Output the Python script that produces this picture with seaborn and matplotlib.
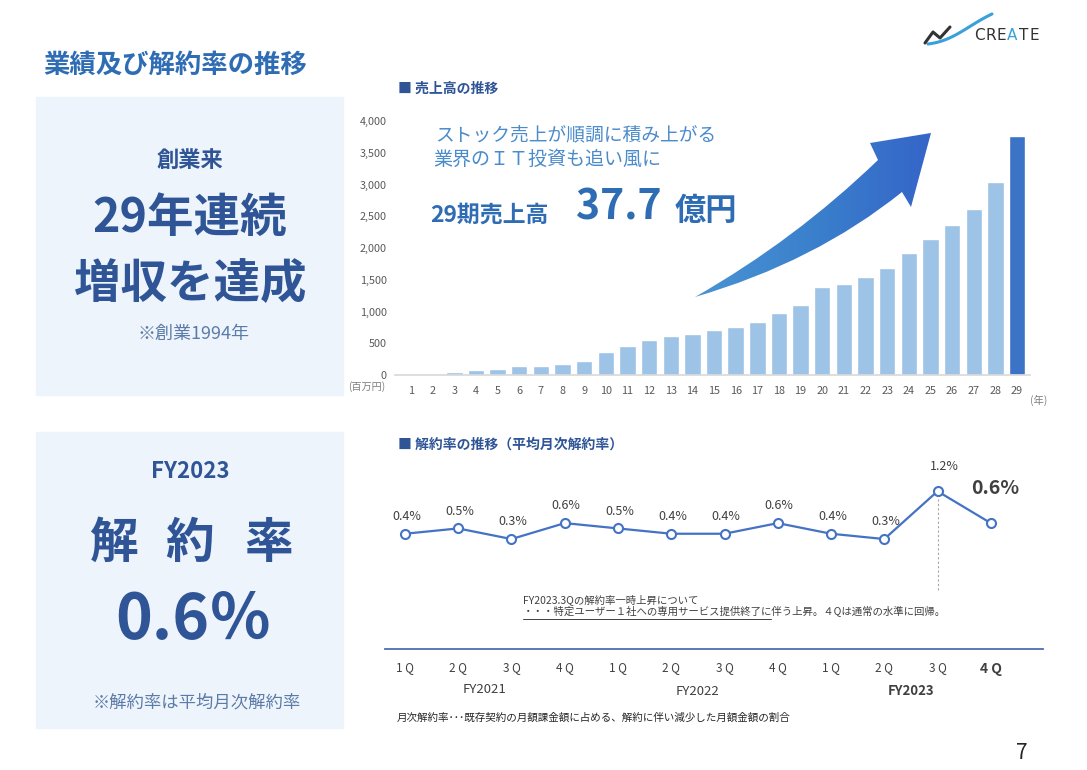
import numpy as np
import pandas as pd
import seaborn as sns
import matplotlib.pyplot as plt
from matplotlib.path import Path
from matplotlib.patches import PathPatch, Rectangle
from matplotlib.colors import LinearSegmentedColormap

# --- data ---
years = [str(i) for i in range(1, 30)]
sales = [10, 20, 52, 79, 94, 136, 147, 178, 225, 367, 461, 545, 608, 650,
         713, 750, 839, 975, 1101, 1379, 1426, 1547, 1688, 1914, 2139,
         2370, 2611, 3046, 3770]
sales_ticks = list(range(0, 4001, 500))

quarters = ['1 Q', '2 Q', '3 Q', '4 Q'] * 3
fiscal_years = ['FY2021', 'FY2022', 'FY2023']
rates = [0.4, 0.5, 0.3, 0.6, 0.5, 0.4, 0.4, 0.6, 0.4, 0.3, 1.2, 0.6]

sns.set_theme(style='white')
plt.rcParams['font.family'] = ['Noto Sans CJK JP', 'DejaVu Sans']

W, H = 1087, 770
DARK = '#2F5597'
GREY = '#404040'

fig = plt.figure(figsize=(W / 100, H / 100), dpi=100)

# background layer in pixel coordinates
bg = fig.add_axes([0, 0, 1, 1], zorder=0)
bg.axis('off')

def box(px_left, px_top, px_right, px_bottom):
    return [px_left / W, 1 - px_bottom / H, (px_right - px_left) / W, (px_bottom - px_top) / H]

bg.add_patch(Rectangle((36, 97), 307, 298, color='#EEF4FB', zorder=0))
bg.add_patch(Rectangle((36, 432), 307, 296, color='#EEF4FB', zorder=0))

bg.text(43, 65, '業績及び解約率の推移', fontsize=19, fontweight='bold', color='#2E6DB4', va='center')

# left panels
bg.text(190, 160, '創業来', fontsize=16, fontweight='bold', color=DARK, ha='center', va='center')
bg.text(190, 218, '29年連続', fontsize=33.5, fontweight='bold', color=DARK, ha='center', va='center')
bg.text(190, 284, '増収を達成', fontsize=33.5, fontweight='bold', color=DARK, ha='center', va='center')
bg.text(193, 334, '※創業1994年', fontsize=13, color='#5B7BA8', ha='center', va='center')

bg.text(190, 472, 'FY2023', fontsize=16, fontweight='bold', color=DARK, ha='center', va='center')
for ch, cx in zip('解約率', [113, 190, 268]):
    bg.text(cx, 543, ch, fontsize=35, fontweight='bold', color=DARK, ha='center', va='center')
bg.text(194, 621, '0.6％', fontsize=45, fontweight='bold', color=DARK, ha='center', va='center')
bg.text(197, 702, '※解約率は平均月次解約率', fontsize=12.5, color='#5B7BA8', ha='center', va='center')

# chart titles and annotations
bg.text(398, 89, '■ 売上高の推移', fontsize=10, fontweight='bold', color=DARK, va='center')
bg.text(398, 445, '■ 解約率の推移（平均月次解約率）', fontsize=10, fontweight='bold', color=DARK, va='center')

bg.text(435, 135, 'ストック売上が順調に積み上がる', fontsize=13.5, color='#4A8BCB', va='center')
bg.text(433, 159, '業界のＩＴ投資も追い風に', fontsize=13.7, color='#4A8BCB', va='center')
bg.text(430, 215, '29期売上高', fontsize=16.5, fontweight='bold', color='#2E6DB4', va='center')
bg.text(576, 208, '37.7', fontsize=29.5, fontweight='bold', color='#2E6DB4', va='center')
bg.text(675, 211, '億円', fontsize=22.5, fontweight='bold', color='#2E6DB4', va='center')

bg.text(367, 387, '(百万円)', fontsize=7.3, color='#7F7F7F', ha='center', va='center')
bg.text(1039, 400, '(年)', fontsize=7.5, color='#7F7F7F', ha='center', va='center')

# note and footnote
bg.text(523, 600, 'FY2023.3Qの解約率一時上昇について', fontsize=7.5, color=GREY, va='center')
bg.text(523, 612, '・・・特定ユーザー１社への専用サービス提供終了に伴う上昇。４Qは通常の水準に回帰。',
        fontsize=7.5, color=GREY, va='center')
bg.plot([523, 771], [619, 619], color=GREY, lw=0.7)
bg.text(397, 718, '月次解約率･･･既存契約の月額課金額に占める、解約に伴い減少した月額金額の割合',
        fontsize=7.6, color='#262626', va='center')

bg.text(1022, 753, '7', fontsize=15, color='#262626', ha='center', va='center')

# logo
t = np.linspace(0, 1, 50)
bg.plot(928 + 64 * t, 44 - 30 * t + 7 * np.sin(np.pi * t) * (1 - t), color='#3AA0DC', lw=2.2)
bg.plot([925, 933, 940, 950], [43, 32, 38, 27], color='#333333', lw=2.2)
for k, (letter, lx) in enumerate(zip('CREATE', [979.5, 990.5, 1001.5, 1012.5, 1023.5, 1034.5])):
    bg.text(lx, 35, letter, fontsize=11, color='#3AA0DC' if k == 3 else '#333333',
            ha='center', va='center', family=['DejaVu Sans'])

# gradient arrow
verts = [(695, 297), (795, 240), (878, 160), (870, 143), (931, 133),
         (911, 207), (902, 192), (815, 262), (695, 297), (695, 297)]
codes = [Path.MOVETO, Path.CURVE3, Path.CURVE3, Path.LINETO, Path.LINETO,
         Path.LINETO, Path.LINETO, Path.CURVE3, Path.CURVE3, Path.CLOSEPOLY]
arrow = PathPatch(Path(verts, codes), facecolor='none', edgecolor='none', transform=bg.transData)
bg.add_patch(arrow)
cmap = LinearSegmentedColormap.from_list('arrow', ['#4B95D4', '#3A80CC', '#3564C8'])
im = bg.imshow(np.linspace(0, 1, 256).reshape(1, -1), extent=[690, 935, 300, 130],
               cmap=cmap, aspect='auto', zorder=2)
im.set_clip_path(arrow)

bg.set_xlim(0, W)
bg.set_ylim(H, 0)

# --- sales bar chart ---
df_sales = pd.DataFrame({'year': years, 'sales': sales})
bar_colors = ['#9DC3E6'] * (len(years) - 1) + ['#3B73C7']
ax1 = fig.add_axes(box(395, 121, 1030, 375), zorder=1)
ax1.set_facecolor('none')
sns.barplot(data=df_sales, x='year', y='sales', hue='year', palette=bar_colors,
            legend=False, saturation=1, width=0.76, ax=ax1)
ax1.set_xlim(-0.74, 28.6)
ax1.set_ylim(0, 4000)
ax1.set_yticks(sales_ticks)
ax1.set_yticklabels([f'{v:,}' for v in sales_ticks])
ax1.set_xlabel('')
ax1.set_ylabel('')
for side in ['top', 'right', 'left']:
    ax1.spines[side].set_visible(False)
ax1.spines['bottom'].set_color('#D9D9D9')
ax1.tick_params(axis='y', length=0, pad=6, labelsize=7.8, labelcolor='#595959')
ax1.tick_params(axis='x', length=0, pad=8, labelsize=7.8, labelcolor='#595959')

# --- churn rate line chart ---
df_rate = pd.DataFrame({'q': range(len(rates)), 'rate': rates})
LINE = '#4472C4'
ax2 = fig.add_axes(box(385, 470, 1043, 649), zorder=1)
ax2.set_facecolor('none')
sns.lineplot(data=df_rate, x='q', y='rate', ax=ax2, color=LINE, lw=1.6,
             marker='o', markersize=6.5, markerfacecolor='white',
             markeredgecolor=LINE, markeredgewidth=1.5)
ax2.set_xlim(-0.375, 11.98)
ax2.set_ylim(-1.77, 1.6)
ax2.set_yticks([])
ax2.set_xticks(range(len(quarters)))
ax2.set_xticklabels(quarters)
ax2.set_xlabel('')
ax2.set_ylabel('')
for side in ['top', 'right', 'left']:
    ax2.spines[side].set_visible(False)
ax2.spines['bottom'].set_color('#4A6FB5')
ax2.spines['bottom'].set_linewidth(1.3)
ax2.tick_params(axis='x', length=0, pad=9, labelsize=8.5, labelcolor=GREY)
ax2.get_xticklabels()[-1].set_fontweight('bold')
ax2.get_xticklabels()[-1].set_fontsize(10)

last = len(rates) - 1
peak = int(np.argmax(rates))
for i, r in enumerate(rates):
    if i == last:
        ax2.annotate(f'{r:.1f}%', (i, r), xytext=(3, 25), textcoords='offset points',
                     ha='center', va='center', fontsize=14, fontweight='bold', color=GREY)
    elif i == peak:
        ax2.annotate(f'{r:.1f}%', (i, r), xytext=(5, 18), textcoords='offset points',
                     ha='center', va='center', fontsize=9, color=GREY)
    else:
        ax2.annotate(f'{r:.1f}%', (i, r), xytext=(1, 12.5), textcoords='offset points',
                     ha='center', va='center', fontsize=9, color=GREY)

ax2.vlines(peak, -0.66, rates[peak] - 0.1, colors='#A6A6A6', linestyles=(0, (2, 2)), lw=0.8)

xt = ax2.get_xaxis_transform()
for k, (fy, yy) in enumerate(zip(fiscal_years, [-0.225, -0.24, -0.235])):
    ax2.text(4 * k + 1.5, yy, fy, transform=xt, ha='center', va='center',
             fontsize=9.5, color=GREY, fontweight='bold' if k == 2 else 'normal')

fig.savefig('out.png', dpi=100)
